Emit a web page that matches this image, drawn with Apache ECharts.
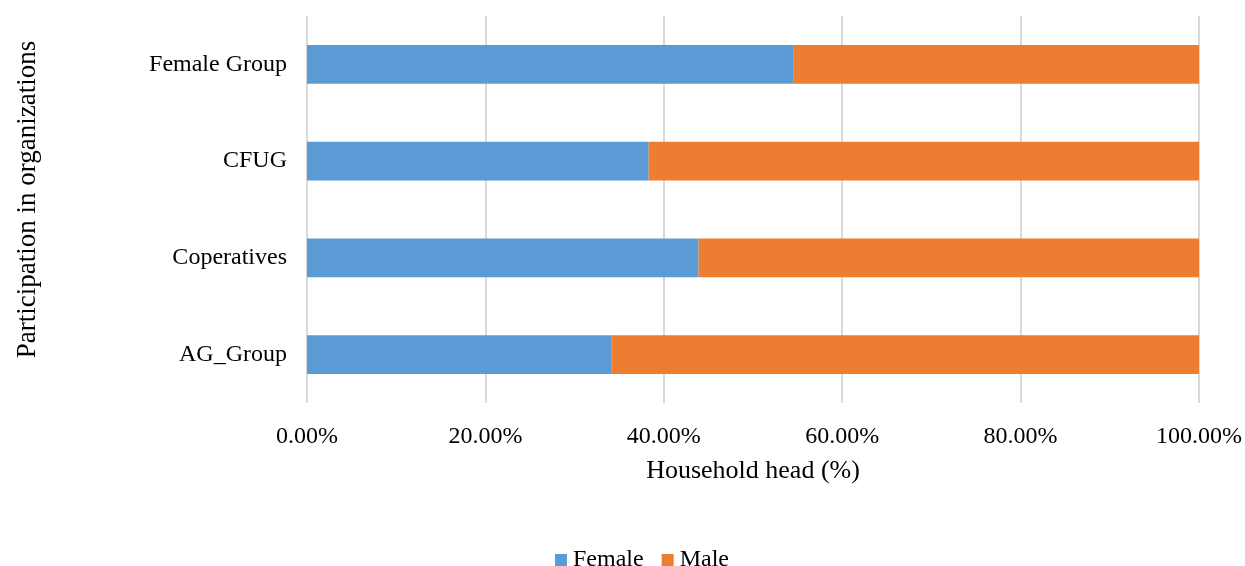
<!DOCTYPE html>
<html>
<head>
<meta charset="utf-8">
<script src="https://cdn.jsdelivr.net/npm/echarts@6/dist/echarts.min.js"></script>
<style>html,body{margin:0;padding:0;background:#fff;}#c{width:1245px;height:566px;}</style>
</head>
<body>
<div id="c"></div>
<script>
const categories = ['AG_Group', 'Coperatives', 'CFUG', 'Female Group'];
const femaleValues = [34.1, 43.9, 38.3, 54.5];
const maleValues = [65.9, 56.1, 61.7, 45.5];
const xTicks = [0, 20, 40, 60, 80, 100];

const font = '"Liberation Serif", "Times New Roman", serif';
const chart = echarts.init(document.getElementById('c'));
chart.setOption({
  animation: false,
  grid: { left: 307, right: 44, top: 16, bottom: 163, containLabel: false },
  textStyle: { fontFamily: font },
  legend: {
    top: 543, left: 550,
    itemWidth: 12, itemHeight: 12, itemGap: 18,
    icon: 'rect',
    textStyle: { fontFamily: font, fontSize: 24, color: '#000', padding: [0, 0, 0, 1] },
    data: ['Female', 'Male']
  },
  xAxis: {
    type: 'value', min: 0, max: 100, interval: 20,
    name: 'Household head (%)', nameLocation: 'middle', nameGap: 55,
    nameTextStyle: { fontFamily: font, fontSize: 26, color: '#000' },
    axisLine: { show: false }, axisTick: { show: false },
    axisLabel: { fontFamily: font, fontSize: 24, color: '#000', margin: 22,
      formatter: v => xTicks.includes(v) ? v.toFixed(2) + '%' : '' },
    splitLine: { show: true, lineStyle: { color: '#d9d9d9', width: 2 } }
  },
  yAxis: {
    type: 'category', data: categories,
    name: 'Participation in organizations', nameLocation: 'middle', nameGap: 266,
    nameTextStyle: { fontFamily: font, fontSize: 27, color: '#000', padding: [0, 0, 0, 20] },
    axisLine: { show: false }, axisTick: { show: false },
    axisLabel: { fontFamily: font, fontSize: 24, color: '#000', margin: 20, padding: [4, 0, 0, 0] }
  },
  series: [
    { name: 'Female', type: 'bar', stack: 't', data: femaleValues, barCategoryGap: '60%',
      itemStyle: { color: '#5b9bd5' } },
    { name: 'Male', type: 'bar', stack: 't', data: maleValues, barCategoryGap: '60%',
      itemStyle: { color: '#ed7d31' } }
  ]
});
</script>
</body>
</html>
